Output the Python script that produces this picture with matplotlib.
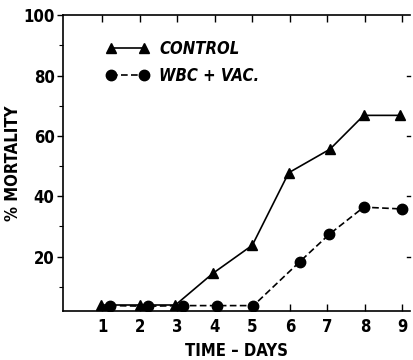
import matplotlib
matplotlib.use("Agg")
import matplotlib.pyplot as plt
from matplotlib.ticker import MultipleLocator, NullLocator

days_control = [0.97, 2.0, 2.95, 3.95, 5.0, 5.97, 7.07, 7.97, 8.95]
control = [4.0, 4.0, 4.0, 14.5, 23.8, 47.8, 55.6, 66.8, 66.8]
days_wbc = [1.2, 2.22, 3.15, 4.07, 5.03, 6.27, 7.05, 7.97, 9.0]
wbc = [3.8, 3.6, 3.8, 3.8, 3.8, 18.4, 27.4, 36.4, 35.8]
xticks = [1, 2, 3, 4, 5, 6, 7, 8, 9]
yticks = [20, 40, 60, 80, 100]

plt.rcParams['font.family'] = ['DejaVu Sans']
fig = plt.figure(figsize=(4.14, 3.6), dpi=100)
ax = fig.add_axes([0.152, 0.136, 0.838, 0.822])

ax.plot(days_control, control, '-', color='black', lw=1.2, marker='^', ms=7, label='CONTROL')
ax.plot(days_wbc, wbc, '--', color='black', lw=1.2, dashes=(4, 2), marker='o', ms=7.5, label='WBC + VAC.')

ax.set_xlim(-0.05, 9.2)
ax.set_ylim(2, 100)
ax.set_xticks(xticks)
ax.set_yticks(yticks)
ax.yaxis.set_minor_locator(MultipleLocator(10))
ax.xaxis.set_minor_locator(NullLocator())

fp = dict(fontweight='bold', fontstretch='condensed', fontsize=12)
ax.set_xticklabels([str(v) for v in xticks], **fp)
ax.set_yticklabels([str(v) for v in yticks], **fp)
ax.tick_params(axis='x', which='major', direction='in', top=True, bottom=True, length=5, width=1, pad=5)
ax.tick_params(axis='y', which='major', direction='out', left=True, right=False, length=4, width=1, pad=2)
ax.tick_params(axis='y', which='minor', direction='out', left=True, right=False, length=3, width=0.8)
for v in yticks[:-1]:
    ax.plot([9.2, 9.12], [v, v], color='black', lw=1, clip_on=False)

ax.spines['right'].set_visible(False)
for s in ['left', 'top', 'bottom']:
    ax.spines[s].set_linewidth(1.2)

ax.set_xlabel('TIME – DAYS', fontweight='bold', fontstretch='condensed', fontsize=12, labelpad=4)
ax.set_ylabel('% MORTALITY', fontweight='bold', fontstretch='condensed', fontsize=12, labelpad=1)

leg = ax.legend(loc='upper left', bbox_to_anchor=(0.1, 0.945), frameon=False, numpoints=2,
                handlelength=2.6, handletextpad=0.6, labelspacing=0.55,
                prop=dict(weight='bold', style='italic', stretch='condensed', size=12), borderpad=0)

fig.savefig('out.png', dpi=100)
